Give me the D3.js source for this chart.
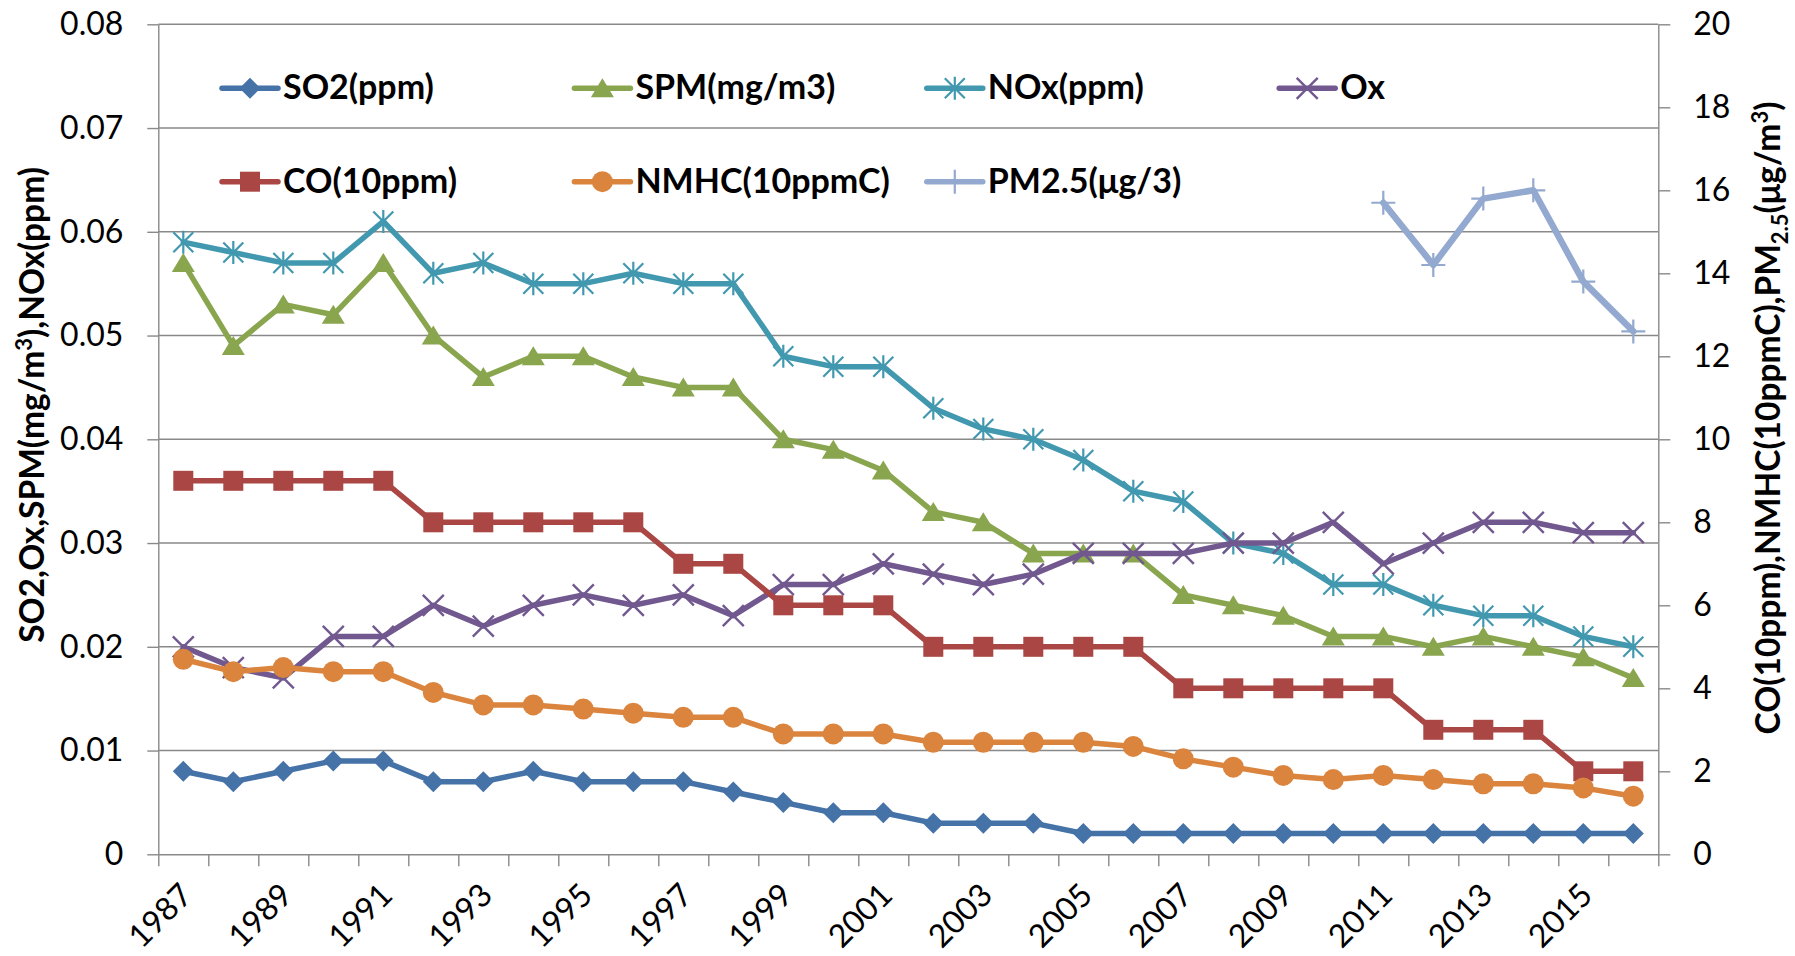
<!DOCTYPE html>
<html>
<head>
<meta charset="utf-8">
<script src="https://cdn.jsdelivr.net/npm/d3@7"></script>
<style>
  body { margin: 0; background: #fff; }
  text { font-family: Lato, "Open Sans", sans-serif; fill: #000; }
</style>
</head>
<body>
<svg id="chart" width="1795" height="956"></svg>
<script>
// categories
const years = [1987, 1988, 1989, 1990, 1991, 1992, 1993, 1994, 1995, 1996,
  1997, 1998, 1999, 2000, 2001, 2002, 2003, 2004, 2005, 2006,
  2007, 2008, 2009, 2010, 2011, 2012, 2013, 2014, 2015, 2016];

// primary axis series
const so2 = [0.008, 0.007, 0.008, 0.009, 0.009, 0.007, 0.007, 0.008, 0.007, 0.007,
  0.007, 0.006, 0.005, 0.004, 0.004, 0.003, 0.003, 0.003, 0.002, 0.002,
  0.002, 0.002, 0.002, 0.002, 0.002, 0.002, 0.002, 0.002, 0.002, 0.002];
const spm = [0.057, 0.049, 0.053, 0.052, 0.057, 0.050, 0.046, 0.048, 0.048, 0.046,
  0.045, 0.045, 0.040, 0.039, 0.037, 0.033, 0.032, 0.029, 0.029, 0.029,
  0.025, 0.024, 0.023, 0.021, 0.021, 0.020, 0.021, 0.020, 0.019, 0.017];
const nox = [0.059, 0.058, 0.057, 0.057, 0.061, 0.056, 0.057, 0.055, 0.055, 0.056,
  0.055, 0.055, 0.048, 0.047, 0.047, 0.043, 0.041, 0.040, 0.038, 0.035,
  0.034, 0.030, 0.029, 0.026, 0.026, 0.024, 0.023, 0.023, 0.021, 0.020];
const ox = [0.020, 0.018, 0.017, 0.021, 0.021, 0.024, 0.022, 0.024, 0.025, 0.024,
  0.025, 0.023, 0.026, 0.026, 0.028, 0.027, 0.026, 0.027, 0.029, 0.029,
  0.029, 0.030, 0.030, 0.032, 0.028, 0.030, 0.032, 0.032, 0.031, 0.031];

// secondary axis series
const co = [9, 9, 9, 9, 9, 8, 8, 8, 8, 8, 7, 7, 6, 6, 6, 5, 5, 5, 5, 5,
  4, 4, 4, 4, 4, 3, 3, 3, 2, 2];
const nmhc = [4.7, 4.4, 4.5, 4.4, 4.4, 3.9, 3.6, 3.6, 3.5, 3.4,
  3.3, 3.3, 2.9, 2.9, 2.9, 2.7, 2.7, 2.7, 2.7, 2.6,
  2.3, 2.1, 1.9, 1.8, 1.9, 1.8, 1.7, 1.7, 1.6, 1.4];
const pm25Years = [2011, 2012, 2013, 2014, 2015, 2016];
const pm25 = [15.7, 14.2, 15.8, 16.0, 13.8, 12.6];

// axis ticks
const leftTicks = [0, 0.01, 0.02, 0.03, 0.04, 0.05, 0.06, 0.07, 0.08];
const rightTicks = [0, 2, 4, 6, 8, 10, 12, 14, 16, 18, 20];
const yearLabels = [1987, 1989, 1991, 1993, 1995, 1997, 1999, 2001, 2003, 2005, 2007, 2009, 2011, 2013, 2015];

const series = [
  {name: 'SO2(ppm)', years: years, values: so2, axis: 'L', color: '#4572A7', marker: 'diamond', width: 5.5},
  {name: 'SPM(mg/m3)', years: years, values: spm, axis: 'L', color: '#89A54E', marker: 'triangle', width: 5.5},
  {name: 'NOx(ppm)', years: years, values: nox, axis: 'L', color: '#4198AF', marker: 'star', width: 5.5},
  {name: 'Ox', years: years, values: ox, axis: 'L', color: '#71588F', marker: 'x', width: 5.5},
  {name: 'CO(10ppm)', years: years, values: co, axis: 'R', color: '#AA4643', marker: 'square', width: 5.5},
  {name: 'NMHC(10ppmC)', years: years, values: nmhc, axis: 'R', color: '#DB843D', marker: 'circle', width: 5.5},
  {name: 'PM2.5(μg/3)', years: pm25Years, values: pm25, axis: 'R', color: '#93A9CF', marker: 'plus', width: 6.5}
];

const width = 1795;
const height = 956;
const plotLeft = 158.3, plotRight = 1658.3, plotTop = 24.3, plotBottom = 854.3;
const axisColor = '#898989';

const svg = d3.select('#chart');
svg.append('rect').attr('width', width).attr('height', height).attr('fill', '#fff');

const x = d3.scaleBand().domain(years).range([plotLeft, plotRight]);
const xEdge = d3.scaleLinear().domain([0, years.length]).range([plotLeft, plotRight]);
const yL = d3.scaleLinear().domain([0, 0.08]).range([plotBottom, plotTop]);
const yR = d3.scaleLinear().domain([0, 20]).range([plotBottom, plotTop]);
const cx = d => x(d) + x.bandwidth() / 2;

// gridlines
svg.append('g')
  .selectAll('line')
  .data(leftTicks.slice(1))
  .join('line')
  .attr('x1', plotLeft).attr('x2', plotRight)
  .attr('y1', d => yL(d)).attr('y2', d => yL(d))
  .attr('stroke', axisColor)
  .attr('stroke-width', 1.4);

function styleAxis(g) {
  g.attr('font-family', 'Lato, sans-serif').attr('font-size', 32);
  g.select('.domain').attr('stroke', axisColor).attr('stroke-width', 1.4);
  g.selectAll('.tick line').attr('stroke', axisColor).attr('stroke-width', 1.4);
  g.selectAll('.tick text').attr('fill', '#000');
}

svg.append('g')
  .attr('transform', `translate(${plotLeft},0)`)
  .call(d3.axisLeft(yL).tickValues(leftTicks).tickSize(11).tickSizeOuter(0).tickPadding(24)
    .tickFormat(d => d === 0 ? '0' : d.toFixed(2)))
  .call(styleAxis);

svg.append('g')
  .attr('transform', `translate(${plotRight},0)`)
  .call(d3.axisRight(yR).tickValues(rightTicks).tickSize(12).tickSizeOuter(0).tickPadding(23)
    .tickFormat(d3.format('d')))
  .call(styleAxis);

svg.append('g')
  .attr('transform', `translate(0,${plotBottom})`)
  .call(d3.axisBottom(xEdge).tickValues(d3.range(years.length + 1)).tickSize(12).tickSizeOuter(0).tickFormat(''))
  .call(styleAxis);

svg.append('g')
  .selectAll('text')
  .data(yearLabels)
  .join('text')
  .attr('transform', d => `translate(${cx(d) + 11},897) rotate(-45)`)
  .attr('text-anchor', 'end')
  .attr('font-size', 32)
  .text(d => d);

// markers
function drawMarker(g, type, color) {
  if (type === 'diamond') {
    g.append('path').attr('d', 'M0,-10.5L10.5,0L0,10.5L-10.5,0Z').attr('fill', color);
  } else if (type === 'square') {
    g.append('rect').attr('x', -10).attr('y', -10).attr('width', 20).attr('height', 20).attr('fill', color);
  } else if (type === 'triangle') {
    g.append('path').attr('d', 'M0,-10L11.5,9L-11.5,9Z').attr('fill', color);
  } else if (type === 'circle') {
    g.append('circle').attr('r', 10.5).attr('fill', color);
  } else if (type === 'star') {
    g.append('path').attr('d', 'M-10,-10L10,10M-10,10L10,-10M0,-11.5L0,11.5')
      .attr('stroke', color).attr('stroke-width', 2.2).attr('fill', 'none');
  } else if (type === 'x') {
    g.append('path').attr('d', 'M-10.5,-10.5L10.5,10.5M-10.5,10.5L10.5,-10.5')
      .attr('stroke', color).attr('stroke-width', 2.4).attr('fill', 'none');
  } else if (type === 'plus') {
    g.append('path').attr('d', 'M-12,0L12,0M0,-12L0,12')
      .attr('stroke', color).attr('stroke-width', 2.2).attr('fill', 'none');
  }
}

const line = d3.line().x(d => d.x).y(d => d.y);

series.forEach(s => {
  const yScale = s.axis === 'L' ? yL : yR;
  const pts = s.values.map((v, i) => ({x: cx(s.years[i]), y: yScale(v)}));
  const g = svg.append('g').attr('class', 'series');
  g.append('path')
    .attr('d', line(pts))
    .attr('fill', 'none')
    .attr('stroke', s.color)
    .attr('stroke-width', s.width)
    .attr('stroke-linejoin', 'round')
    .attr('stroke-linecap', 'round');
  g.selectAll('g.mark')
    .data(pts)
    .join('g')
    .attr('class', 'mark')
    .attr('transform', d => `translate(${d.x},${d.y})`)
    .each(function() { drawMarker(d3.select(this), s.marker, s.color); });
});

// legend, 4 columns x 2 rows
const legendX0 = 222, legendColStep = 352.4, legendRows = [88.3, 181.7];
const legend = svg.append('g').attr('class', 'legend');
series.forEach((s, i) => {
  const lx = legendX0 + (i % 4) * legendColStep;
  const ly = legendRows[Math.floor(i / 4)];
  const g = legend.append('g').attr('transform', `translate(${lx},${ly})`);
  g.append('line').attr('x1', 0).attr('x2', 56).attr('y1', 0).attr('y2', 0)
    .attr('stroke', s.color).attr('stroke-width', 5.5).attr('stroke-linecap', 'round');
  drawMarker(g.append('g').attr('transform', 'translate(28,0)'), s.marker, s.color);
  g.append('text').attr('x', 61).attr('y', 11).attr('font-size', 34).attr('font-weight', 'bold').text(s.name);
});

// axis titles
const leftTitle = svg.append('text')
  .attr('transform', 'translate(44,405) rotate(-90)')
  .attr('text-anchor', 'middle')
  .attr('font-size', 33.5)
  .attr('font-weight', 'bold');
leftTitle.append('tspan').text('SO2,Ox,SPM(mg/m');
leftTitle.append('tspan').attr('font-size', 22).attr('dy', -12).text('3');
leftTitle.append('tspan').attr('dy', 12).text('),NOx(ppm)');

const rightTitle = svg.append('text')
  .attr('transform', 'translate(1780,418) rotate(-90)')
  .attr('text-anchor', 'middle')
  .attr('font-size', 33.5)
  .attr('font-weight', 'bold');
rightTitle.append('tspan').text('CO(10ppm),NMHC(10ppmC),PM');
rightTitle.append('tspan').attr('font-size', 22).attr('dy', 8).text('2.5');
rightTitle.append('tspan').attr('dy', -8).text('(μg/m');
rightTitle.append('tspan').attr('font-size', 22).attr('dy', -12).text('3');
rightTitle.append('tspan').attr('dy', 12).text(')');
</script>
</body>
</html>
